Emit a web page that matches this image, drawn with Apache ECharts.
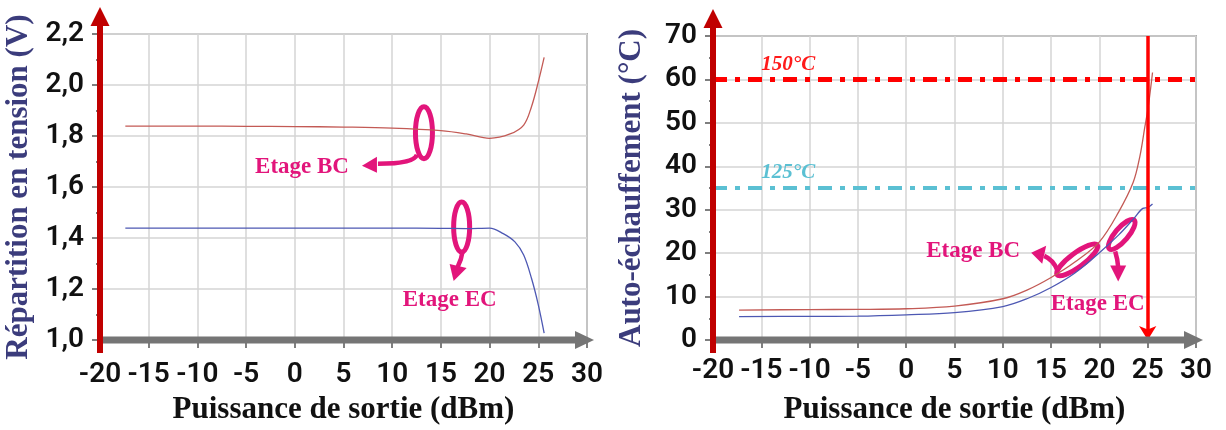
<!DOCTYPE html>
<html><head><meta charset="utf-8">
<script src="https://cdn.jsdelivr.net/npm/echarts@6/dist/echarts.min.js"></script>
<style>html,body{margin:0;padding:0;background:#fff}#c{width:1226px;height:430px}</style>
</head><body><div id="c"></div>
<script>
// ---------- data ----------
const xTicks = [-20, -15, -10, -5, 0, 5, 10, 15, 20, 25, 30];
const leftYTicks = [1.0, 1.2, 1.4, 1.6, 1.8, 2.0, 2.2];
const rightYTicks = [0, 10, 20, 30, 40, 50, 60, 70];

const leftPowerBC = [-17.4, -10, -5, 0, 5, 10, 15, 17.6, 20, 22.1, 23.5, 24.3, 25, 25.6];
const leftVoltBC  = [1.839, 1.839, 1.838, 1.837, 1.835, 1.831, 1.821, 1.808, 1.791, 1.808, 1.843, 1.915, 2.012, 2.108];
const leftPowerEC = [-17.4, -10, 0, 10, 15, 17.6, 20, 21.4, 22.6, 23.5, 24.3, 25, 25.6];
const leftVoltEC  = [1.439, 1.439, 1.439, 1.439, 1.438, 1.437, 1.439, 1.417, 1.385, 1.333, 1.242, 1.138, 1.027];

const rightPowerBC = [-17.3, -10, -5, 0, 5, 10, 12.5, 15, 17.5, 20, 22, 23.5, 24.2, 24.7, 25.05, 25.5];
const rightTempBC  = [6.9, 7.0, 7.05, 7.2, 7.8, 9.5, 11.5, 14.4, 18, 22.6, 29.5, 36.3, 42.4, 49, 53.6, 61.6];
const rightPowerEC = [-17.3, -10, -5, 0, 5, 10, 12.5, 15, 17.5, 20, 22, 23.5, 24.5, 25, 25.5];
const rightTempEC  = [5.4, 5.45, 5.5, 5.8, 6.3, 7.7, 9.5, 12.1, 15.5, 20.1, 24.2, 27.8, 30.3, 30.5, 31.3];

const limit150 = 60;     // 150°C line
const limit125 = 35;     // 125°C line
const maxPower = 25;     // vertical red marker

const annotations = {
  leftBC:  [13.26, 1.813],
  leftEC:  [17.13, 1.443],
  rightBC: [17.7, 18.45],
  rightEC: [22.31, 24.3]
};

// ---------- chart ----------
const chart = echarts.init(document.getElementById('c'), null, {renderer: 'canvas'});
const SERIF = '"Liberation Serif","Times New Roman",serif';
const TICKFONT = 'Roboto';
const MAGENTA = '#e2157b';
const zip = (xs, ys) => xs.map((x, i) => [x, ys[i]]);

function xAxisFor(gi, margin) {
  return {
    type: 'value', gridIndex: gi,
    min: xTicks[0], max: xTicks[xTicks.length - 1], interval: xTicks[1] - xTicks[0],
    axisLine: {show: false, onZero: false},
    axisTick: {show: true, length: 8, lineStyle: {color: '#555', width: 1.5}},
    axisLabel: {color: '#111', fontFamily: TICKFONT, fontSize: 28, fontWeight: 600, margin: margin},
    splitLine: {show: true, lineStyle: {color: '#d4d4d4', width: 1.5}},
    name: 'Puissance de sortie (dBm)', nameLocation: 'middle', nameGap: 54,
    nameTextStyle: {fontFamily: SERIF, fontWeight: 'bold', fontSize: 31, color: '#111'}
  };
}
function yAxisFor(gi, ticks, name, fmt) {
  return {
    type: 'value', gridIndex: gi,
    min: ticks[0], max: ticks[ticks.length - 1], interval: ticks[1] - ticks[0],
    axisLine: {show: false, onZero: false},
    axisTick: {show: true, length: 8, lineStyle: {color: '#555', width: 1.5}},
    minorTick: {show: true, splitNumber: 2, length: 4, lineStyle: {color: '#555', width: 1.5}},
    axisLabel: {color: '#111', fontFamily: TICKFONT, fontSize: 28, fontWeight: 600, margin: 16, formatter: fmt},
    splitLine: {show: true, lineStyle: {color: '#d4d4d4', width: 1.5}},
    name: name, nameLocation: 'middle', nameRotate: 90, nameGap: 66,
    nameTextStyle: {fontFamily: SERIF, fontWeight: 'bold', fontSize: 31, color: '#3b3c7c'}
  };
}

const lineSeries = (xi, xs, ys, color) => ({
  type: 'line', xAxisIndex: xi, yAxisIndex: xi, data: zip(xs, ys),
  symbol: 'none', showSymbol: false, smooth: 0.35,
  lineStyle: {color: color, width: 1.3}, z: 3, silent: true
});

const BCCOL = '#c35a55', ECCOL = '#4d58b3';

chart.setOption({
  animation: false,
  backgroundColor: '#fff',
  grid: [
    {left: 100, right: 639, top: 34, bottom: 88, show: true, borderColor: '#707070', borderWidth: 1.5},
    {left: 713, right: 30, top: 36, bottom: 89, show: true, borderColor: '#707070', borderWidth: 1.5}
  ],
  xAxis: [xAxisFor(0, 21), xAxisFor(1, 17)],
  yAxis: [
    yAxisFor(0, leftYTicks, 'Répartition en tension (V)', v => v.toFixed(1).replace('.', ',')),
    yAxisFor(1, rightYTicks, 'Auto-échauffement (°C)', v => String(v))
  ],
  series: [
    lineSeries(0, leftPowerBC, leftVoltBC, BCCOL),
    lineSeries(0, leftPowerEC, leftVoltEC, ECCOL),
    lineSeries(1, rightPowerBC, rightTempBC, BCCOL),
    lineSeries(1, rightPowerEC, rightTempEC, ECCOL),
    {
      type: 'line', xAxisIndex: 1, yAxisIndex: 1, data: [], silent: true,
      markLine: {
        silent: true, symbol: ['none', 'none'], label: {show: false},
        data: [
          {yAxis: limit150, lineStyle: {color: '#ff0000', width: 5, type: [14, 8, 5, 8]}},
          {yAxis: limit125, lineStyle: {color: '#5bc0d3', width: 4, type: [14, 8, 5, 8]}}
        ]
      }
    },
    {
      type: 'line', xAxisIndex: 1, yAxisIndex: 1, data: [], silent: true,
      markLine: {
        silent: true, symbol: ['none', 'arrow'], symbolSize: [13, 14], label: {show: false},
        lineStyle: {color: '#ff0000', width: 3.5, type: 'solid'},
        data: [[{coord: [maxPower, rightYTicks[rightYTicks.length - 1]]}, {coord: [maxPower, rightYTicks[0]]}]]
      }
    }
  ]
});

// ---------- decorations (axis arrows + annotations) ----------
const P = (gi, x, y) => chart.convertToPixel({gridIndex: gi}, [x, y]);
const g = [];

function axisArrows(gi, yTicks) {
  const x0 = xTicks[0], x1 = xTicks[xTicks.length - 1];
  const ymin = yTicks[0], ymax = yTicks[yTicks.length - 1];
  const [ax, ay] = P(gi, x0, ymin);
  const [bx] = P(gi, x1, ymin);
  const [, ty] = P(gi, x0, ymax);
  g.push({type: 'line', z: 20, shape: {x1: ax, y1: ay, x2: bx - 12, y2: ay}, style: {stroke: '#757575', lineWidth: 7}});
  g.push({type: 'polygon', z: 20, shape: {points: [[bx + 7, ay], [bx - 12, ay - 9], [bx - 12, ay + 9]]}, style: {fill: '#757575'}});
  g.push({type: 'line', z: 21, shape: {x1: ax, y1: ay + 13, x2: ax, y2: ty - 9}, style: {stroke: '#c00000', lineWidth: 6}});
  g.push({type: 'polygon', z: 21, shape: {points: [[ax, ty - 27], [ax - 9.5, ty - 8], [ax + 9.5, ty - 8]]}, style: {fill: '#c00000'}});
}
axisArrows(0, leftYTicks);
axisArrows(1, rightYTicks);

const stroke = {stroke: MAGENTA, lineWidth: 5, fill: null};
const txtStyle = (t, x, y, align) => ({type: 'text', z: 30, x: x, y: y,
  style: {text: t, fill: MAGENTA, font: 'bold 23px ' + SERIF, align: align, verticalAlign: 'middle'}});
const ell = (cx, cy, rx, ry, rot) => ({type: 'group', x: cx, y: cy, rotation: rot, z: 30,
  children: [{type: 'ellipse', shape: {cx: 0, cy: 0, rx: rx, ry: ry}, style: stroke}]});
const bez = (c, a, cp, b) => ({type: 'bezierCurve', z: 30,
  shape: {x1: c[0] + a[0], y1: c[1] + a[1], cpx1: c[0] + cp[0], cpy1: c[1] + cp[1], x2: c[0] + b[0], y2: c[1] + b[1]},
  style: {stroke: MAGENTA, lineWidth: 4.5, fill: null}});
const head = (c, pts) => ({type: 'polygon', z: 30, shape: {points: pts.map(p => [c[0] + p[0], c[1] + p[1]])}, style: {fill: MAGENTA}});

let c = P(0, annotations.leftBC[0], annotations.leftBC[1]);
g.push(ell(c[0], c[1], 8.5, 26, 0));
g.push(bez(c, [-7, 22], [-10, 31], [-46, 31]));
g.push(head(c, [[-62, 33], [-47, 24], [-47, 40]]));
g.push(txtStyle('Etage BC', c[0] - 75, c[1] + 34, 'right'));

c = P(0, annotations.leftEC[0], annotations.leftEC[1]);
g.push(ell(c[0], c[1], 8, 25, 0));
g.push(bez(c, [1, 24], [0, 32], [-4, 40]));
g.push(head(c, [[-8, 54], [-12, 37], [5, 41]]));
g.push(txtStyle('Etage EC', c[0] - 12, c[1] + 73, 'center'));

c = P(1, annotations.rightBC[0], annotations.rightBC[1]);
g.push(ell(c[0], c[1], 25, 7, 36.4 * Math.PI / 180));
g.push(bez(c, [-20, 10], [-24, 0], [-33, -4]));
g.push(head(c, [[-46, -7], [-31, -14], [-35, 4]]));
g.push(txtStyle('Etage BC', c[0] - 104, c[1] - 9, 'center'));

c = P(1, annotations.rightEC[0], annotations.rightEC[1]);
g.push(ell(c[0], c[1], 19, 6.5, 49.5 * Math.PI / 180));
g.push(bez(c, [-6.5, 17], [-4, 25], [-3.5, 33]));
g.push(head(c, [[-3.5, 47], [-11.5, 31], [4.5, 31]]));
g.push(txtStyle('Etage EC', c[0] - 24, c[1] + 70, 'center'));

let p = P(1, -15, limit150);
g.push({type: 'text', z: 30, x: p[0], y: p[1] - 15, style: {text: '150°C', fill: '#ff1a1a', font: 'italic bold 21px ' + SERIF, align: 'left', verticalAlign: 'middle'}});
p = P(1, -15, limit125);
g.push({type: 'text', z: 30, x: p[0], y: p[1] - 15, style: {text: '125°C', fill: '#5bc0d3', font: 'italic bold 21px ' + SERIF, align: 'left', verticalAlign: 'middle'}});

chart.setOption({graphic: g});
</script>
</body></html>
